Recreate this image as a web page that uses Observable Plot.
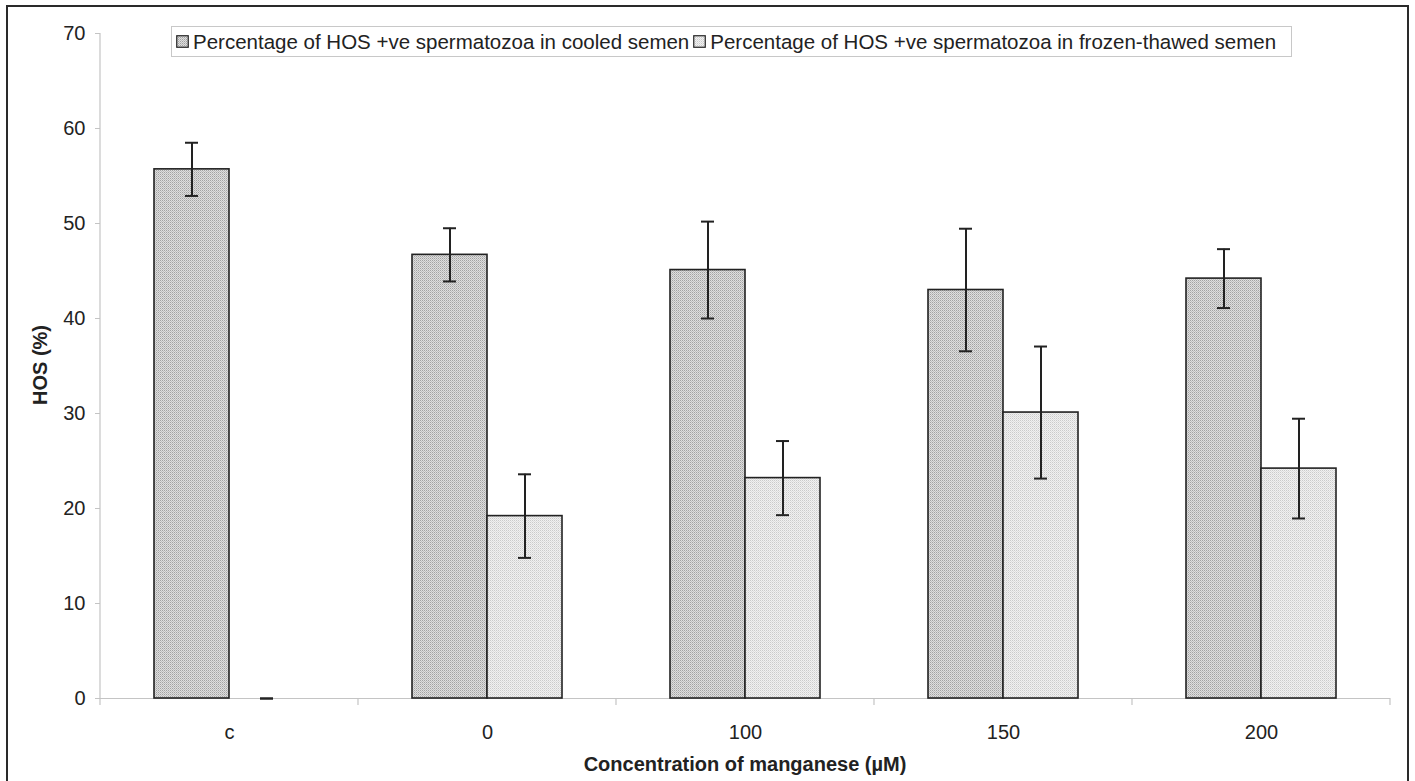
<!DOCTYPE html>
<html>
<head>
<meta charset="utf-8">
<script src="https://cdn.jsdelivr.net/npm/d3@7"></script>
<script src="https://cdn.jsdelivr.net/npm/@observablehq/plot@0.6"></script>
<style>
  html, body { margin: 0; padding: 0; background: #fff; }
  body { width: 1415px; height: 781px; position: relative; overflow: hidden; font-family: "Liberation Sans", Arial, sans-serif; color: #222; }
  #frame { position: absolute; left: 6px; top: 5px; width: 1399px; height: 800px; border: 2px solid #2a2a2a; border-bottom: none; box-sizing: content-box; }
  #chart { position: absolute; left: 0; top: 0; }
  #legend { position: absolute; left: 171px; top: 26px; width: 1121px; height: 31px; border: 1px solid #c8c8c8; background: #fff; box-sizing: border-box; display: flex; align-items: center; font-size: 20.5px; white-space: nowrap; padding-left: 4px; }
  #legend .item { display: flex; align-items: center; }
  #legend svg { margin-right: 4px; }
  #legend .item + .item { margin-left: 4px; }
  #xtitle { position: absolute; left: 100px; width: 1290px; top: 753px; text-align: center; font-weight: bold; font-size: 20px; }
  #ytitle { position: absolute; left: 40px; top: 365px; transform: translate(-50%, -50%) rotate(-90deg); font-weight: bold; font-size: 20px; white-space: nowrap; }
</style>
</head>
<body>
<svg width="0" height="0" style="position:absolute">
  <defs>
    <pattern id="patCooled" width="2" height="2" patternUnits="userSpaceOnUse">
      <rect width="2" height="2" fill="#dedede"></rect>
      <rect x="0" y="0" width="1" height="1" fill="#a2a2a2"></rect>
      <rect x="1" y="1" width="1" height="1" fill="#bebebe"></rect>
    </pattern>
    <pattern id="patFrozen" width="2" height="2" patternUnits="userSpaceOnUse">
      <rect width="2" height="2" fill="#f1f1f1"></rect>
      <rect x="0" y="0" width="1" height="1" fill="#cbcbcb"></rect>
      <rect x="1" y="1" width="1" height="1" fill="#dedede"></rect>
    </pattern>
  </defs>
</svg>
<div id="frame"></div>
<div id="chart"></div>
<div id="legend"></div>
<div id="xtitle">Concentration of manganese (µM)</div>
<div id="ytitle">HOS (%)</div>
<script>
// ---- data ----
const categories = ["c", "0", "100", "150", "200"];
const seriesKeys = ["cooled", "frozen"];
const seriesLabels = [
  "Percentage of HOS +ve spermatozoa in cooled semen",
  "Percentage of HOS +ve spermatozoa in frozen-thawed semen"
];
const cooledMean = [55.7, 46.7, 45.1, 43.0, 44.2];
const cooledErr  = [2.8, 2.8, 5.1, 6.45, 3.1];
const frozenMean = [0, 19.2, 23.2, 30.1, 24.2];
const frozenErr  = [0, 4.4, 3.9, 6.95, 5.25];
const yTicks = [0, 10, 20, 30, 40, 50, 60, 70];

const fills = {cooled: "url(#patCooled)", frozen: "url(#patFrozen)"};

const rows = [];
categories.forEach((c, i) => {
  rows.push({cat: c, series: "cooled", value: cooledMean[i], err: cooledErr[i]});
  rows.push({cat: c, series: "frozen", value: frozenMean[i], err: frozenErr[i]});
});

const plot = Plot.plot({
  width: 1415,
  height: 781,
  marginLeft: 100,
  marginRight: 25,
  marginTop: 33,
  marginBottom: 83,
  style: {fontFamily: "'Liberation Sans', Arial, sans-serif", fontSize: "20px", color: "#222", background: "transparent"},
  fx: {domain: categories, padding: 0, axis: null, label: null},
  x: {domain: seriesKeys, paddingInner: 0, paddingOuter: 0.72, axis: null},
  y: {domain: [0, 70], axis: null, label: null},
  marks: [
    Plot.ruleY([0], {stroke: "#c4c4c4", strokeWidth: 1.2}),
    Plot.barY(rows, {
      fx: "cat", x: "series", y: "value",
      fill: d => fills[d.series],
      stroke: "#222", strokeWidth: 1.6
    }),
    Plot.ruleX(rows, {
      fx: "cat", x: "series",
      y1: d => d.value - d.err, y2: d => d.value + d.err,
      stroke: "#222", strokeWidth: 2
    }),
    Plot.tickY(rows, {
      fx: "cat", x: "series", y: d => d.value + d.err,
      stroke: "#222", strokeWidth: 2, insetLeft: 31, insetRight: 31
    }),
    Plot.tickY(rows, {
      fx: "cat", x: "series", y: d => d.value - d.err,
      stroke: "#222", strokeWidth: 2, insetLeft: 31, insetRight: 31
    }),
    Plot.axisY({
      ticks: yTicks, tickSize: 5, tickPadding: 10,
      stroke: "#c4c4c4", fill: "#222", fontSize: 20, label: null, tickFormat: d => d
    }),
    Plot.axisFx({
      anchor: "bottom", tickSize: 0, tickPadding: 26,
      fill: "#222", fontSize: 20, label: null
    })
  ]
});

document.getElementById("chart").appendChild(plot);

// axis lines and category boundary ticks, positioned from the plot's own scales
const fxS = plot.scale("fx");
const yS = plot.scale("y");
const y0 = yS.apply(0);
const yTop = yS.apply(70);
const xLeft = fxS.apply(categories[0]);
const g = d3.select(plot).append("g").attr("stroke", "#c4c4c4").attr("stroke-width", 1.2);
g.append("line").attr("x1", xLeft).attr("x2", xLeft).attr("y1", yTop).attr("y2", y0 + 7);
categories.forEach(c => {
  const xb = fxS.apply(c) + fxS.bandwidth;
  g.append("line").attr("x1", xb).attr("x2", xb).attr("y1", y0).attr("y2", y0 + 7);
});

// legend
const legend = d3.select("#legend");
seriesKeys.forEach((k, i) => {
  const item = legend.append("div").attr("class", "item");
  const sw = item.append("svg").attr("width", 13).attr("height", 13);
  sw.append("rect").attr("x", 0.75).attr("y", 0.75).attr("width", 11.5).attr("height", 11.5)
    .attr("fill", fills[k]).attr("stroke", "#222").attr("stroke-width", 1.2);
  item.append("span").text(seriesLabels[i]);
});
</script>
</body>
</html>
